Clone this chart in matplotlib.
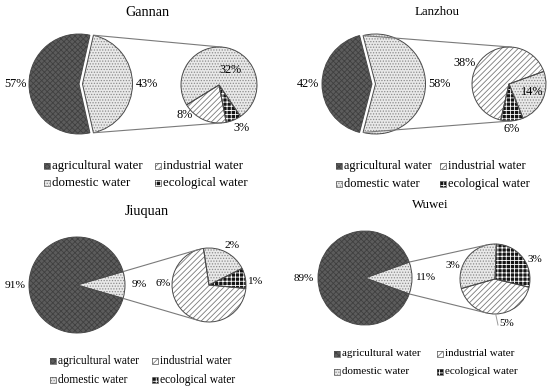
import numpy as np
import matplotlib
matplotlib.use('Agg')
import matplotlib.pyplot as plt
from matplotlib.patches import Rectangle

# ---------------- data ----------------
regions = ['Gannan', 'Lanzhou', 'Jiuquan', 'Wuwei']
categories = ['agricultural water', 'industrial water', 'domestic water', 'ecological water']
agricultural = [57, 42, 91, 89]
industrial = [8.3, 38.2, 6.4, 4.6]
domestic = [31.9, 14.1, 1.8, 3.3]
ecological = [2.8, 5.7, 0.8, 3.1]

# ---------------- layout / style ----------------
W, H = 550, 387
plt.rcParams['font.family'] = ['Liberation Serif', 'DejaVu Serif']
plt.rcParams['hatch.linewidth'] = 0.6
legend_fs = [9.3, 8.9, 8.3, 7.9]
label_fs = [8.8, 8.8, 8.2, 8.0]
title_fs = [10.2, 9.3, 10.2, 9.3]

styles = {
    'agricultural water': dict(fc='#5c5c5c', hatch='xxxxxx', hc='#404040'),
    'industrial water': dict(fc='white', hatch='//////', hc='#7a7a7a'),
    'domestic water': dict(fc='#e9e9e9', hatch='......', hc='#8c8c8c'),
    'ecological water': dict(fc='#151515', hatch='++++', hc='#ffffff'),
}

main_center = [(79, 84), (372, 84), (77, 285), (365, 278)]
main_r = [50, 50, 48, 47]
main_explode = [3.5, 3.5, 0, 0]
sec_center = [(219, 85), (509, 84), (209, 285), (495, 279)]
sec_r = [38, 37, 37, 35]
sec_start = [281, 257, 354.6, 346.4]
title_pos = [(147, 12), (437, 12), (147, 212), (430, 205)]
sec_label_pos = [
    [(185, 115), (230, 70), (242, 128)],
    [(465, 63), (532, 92), (512, 129)],
    [(163, 284), (232, 246), (255, 282)],
    [(507, 323), (453, 266), (535, 259)],
]
leader = [False, False, False, True]
legend_pos = [(47, 158, 166, 183), (339, 443, 166, 184),
              (53, 155, 361, 380), (337, 440, 354, 372)]


def Y(y):
    return H - y


def pct(v):
    return f"{int(v + 0.5)}%"


fig = plt.figure(figsize=(W / 100, H / 100), dpi=100)
ax = fig.add_axes([0, 0, 1, 1])


def styled_pie(values, cats, center, r, start, counterclock, explode):
    cols = [styles[c]['fc'] for c in cats]
    wedges, _ = ax.pie(values, colors=cols, startangle=start, counterclock=counterclock,
                       center=center, radius=r, explode=explode,
                       wedgeprops=dict(linewidth=0))
    for w, c in zip(wedges, cats):
        w.set_edgecolor(styles[c]['hc'])
        w.set_linewidth(0)
        w.set_hatch(styles[c]['hatch'])
    ax.pie(values, startangle=start, counterclock=counterclock,
           center=center, radius=r, explode=explode,
           wedgeprops=dict(fill=False, edgecolor='#4a4a4a', linewidth=0.7))
    return wedges


for i, reg in enumerate(regions):
    FS = label_fs[i]
    sec_vals = [industrial[i], domestic[i], ecological[i]]
    other = sum(sec_vals)
    mvals = [agricultural[i], other]
    mc = (main_center[i][0], Y(main_center[i][1]))
    start = 180 - agricultural[i] / (agricultural[i] + other) * 180
    mw = styled_pie(mvals, ['agricultural water', 'domestic water'], mc, main_r[i],
                    start, True, [0, main_explode[i]])
    for w, v in zip(mw, mvals):
        th = np.deg2rad((w.theta1 + w.theta2) / 2)
        cx, cy = w.center
        ax.text(cx + (w.r + 14) * np.cos(th), cy + (w.r + 14) * np.sin(th), pct(v),
                ha='center', va='center', fontsize=FS)

    sc = (sec_center[i][0], Y(sec_center[i][1]))
    sw = styled_pie(sec_vals, ['industrial water', 'domestic water', 'ecological water'],
                    sc, sec_r[i], sec_start[i], False, [0, 0, 0])
    for (lx, ly), v in zip(sec_label_pos[i], sec_vals):
        ax.text(lx, Y(ly), pct(v), ha='center', va='center', fontsize=FS)

    if leader[i]:
        w = sw[0]
        th = np.deg2rad((w.theta1 + w.theta2) / 2)
        lx, ly = sec_label_pos[i][0]
        ax.plot([sc[0] + w.r * np.cos(th), lx - 9], [sc[1] + w.r * np.sin(th), Y(ly + 2)],
                color='#9a9a9a', lw=0.7)

    # connector lines: from ends of the "other" wedge, tangent to secondary pie
    ow = mw[1]
    ocx, ocy = ow.center
    R = sec_r[i]
    for ang, sign in [(ow.theta2, -1), (ow.theta1, +1)]:
        px = ocx + ow.r * np.cos(np.deg2rad(ang))
        py = ocy + ow.r * np.sin(np.deg2rad(ang))
        dx, dy = px - sc[0], py - sc[1]
        d = np.hypot(dx, dy)
        phi = np.arctan2(dy, dx)
        a = np.arccos(R / d)
        t = phi + sign * a
        qx, qy = sc[0] + R * np.cos(t), sc[1] + R * np.sin(t)
        ax.plot([px, qx], [py, qy], color='#7a7a7a', lw=0.8, solid_capstyle='butt')

    ax.text(title_pos[i][0], Y(title_pos[i][1]), reg, ha='center', va='center',
            fontsize=title_fs[i])

    # legend
    x1, x2, y1, y2 = legend_pos[i]
    spots = [(x1, y1), (x2, y1), (x1, y2), (x2, y2)]
    for (lx, ly), c in zip(spots, categories):
        st = styles[c]
        s = 6
        ax.add_patch(Rectangle((lx - s / 2, Y(ly) - s / 2), s, s, facecolor=st['fc'],
                               edgecolor=st['hc'], hatch=st['hatch'], linewidth=0))
        ax.add_patch(Rectangle((lx - s / 2, Y(ly) - s / 2), s, s, fill=False,
                               edgecolor='#505050', linewidth=0.5))
        ax.text(lx + s / 2 + 1.6, Y(ly), c, ha='left', va='center', fontsize=legend_fs[i])

ax.set_xlim(0, W)
ax.set_ylim(0, H)
ax.set_aspect('auto')
ax.axis('off')
fig.savefig('out.png', dpi=100, facecolor='white')
